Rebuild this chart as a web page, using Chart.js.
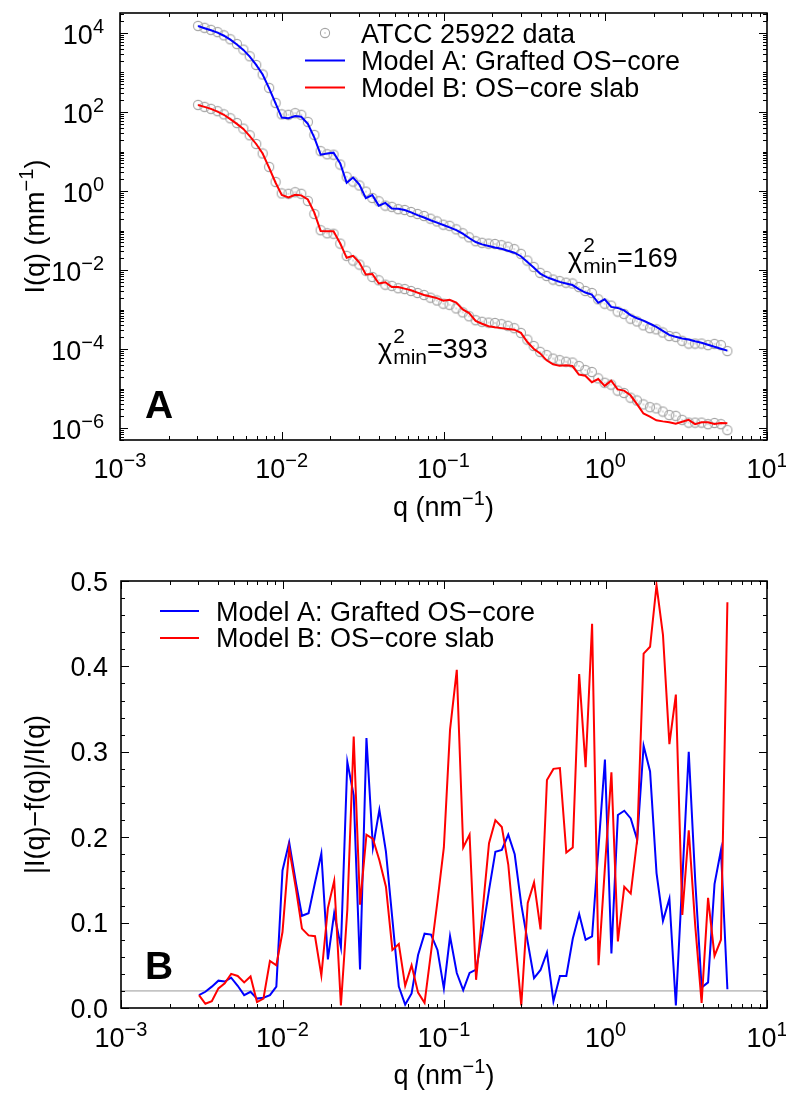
<!DOCTYPE html>
<html>
<head>
<meta charset="utf-8">
<title>ATCC 25922 fits</title>
<script src="https://cdn.jsdelivr.net/npm/chart.js@4.4.1/dist/chart.umd.min.js"></script>
<style>
  html, body { margin: 0; padding: 0; background: #fff; }
  #wrap { position: relative; width: 786px; height: 1093px; }
  canvas { position: absolute; left: 0; }
  #chartA { top: 0; }
  #chartB { top: 545px; }
</style>
</head>
<body>
<div id="wrap">
  <canvas id="chartA" width="786" height="545"></canvas>
  <canvas id="chartB" width="786" height="548"></canvas>
</div>
<script>
// q (nm^-1), shared by all series
const q = [3.04e-3,3.33e-3,3.65e-3,4.01e-3,4.39e-3,4.81e-3,5.28e-3,5.79e-3,6.34e-3,6.95e-3,
  7.62e-3,8.36e-3,9.16e-3,1.00e-2,1.10e-2,1.21e-2,1.32e-2,1.45e-2,1.59e-2,1.74e-2,
  1.91e-2,2.09e-2,2.30e-2,2.52e-2,2.76e-2,3.02e-2,3.31e-2,3.63e-2,3.98e-2,4.37e-2,
  4.79e-2,5.25e-2,5.75e-2,6.30e-2,6.91e-2,7.58e-2,8.31e-2,9.11e-2,9.98e-2,0.109,
  0.120,0.1315,0.144,0.158,0.173,0.190,0.208,0.228,0.250,0.274,
  0.301,0.330,0.361,0.396,0.434,0.476,0.522,0.572,0.627,0.687,
  0.753,0.826,0.905,0.992,1.088,1.193,1.307,1.433,1.571,1.722,
  1.888,2.070,2.269,2.487,2.727,2.989,3.277,3.592,3.937,4.316,
  4.732,5.187,5.686];

// ATCC 25922 data, I(q) in mm^-1
const intensity = [1.51e4,1.35e4,1.20e4,1.05e4,8.71e3,6.92e3,5.25e3,3.80e3,2.57e3,1.55e3,
  891,407,170,87.1,85.1,93.3,85.1,56.2,26.3,10.2,
  8.51,8.32,4.68,2.29,1.74,1.38,0.966,0.668,0.550,0.427,
  0.398,0.347,0.331,0.295,0.263,0.234,0.200,0.170,0.141,0.132,
  0.107,0.0851,0.0676,0.0537,0.0490,0.0468,0.0457,0.0427,0.0389,0.0339,
  0.0257,0.0174,0.0120,8.51e-3,7.08e-3,5.75e-3,5.25e-3,4.79e-3,4.57e-3,3.72e-3,
  2.95e-3,2.63e-3,1.82e-3,1.41e-3,1.26e-3,8.91e-4,7.76e-4,5.89e-4,5.01e-4,3.98e-4,
  3.39e-4,3.16e-4,2.63e-4,2.14e-4,2.04e-4,1.62e-4,1.38e-4,1.38e-4,1.38e-4,1.26e-4,
  1.35e-4,1.26e-4,8.91e-5];

// the data is drawn a second time, shifted down, under model B
const dataOffset = 0.01;

// Model A: Grafted OS-core
const modelA = [1.50e4,1.32e4,1.17e4,1.02e4,8.51e3,6.76e3,5.13e3,3.72e3,2.51e3,1.55e3,
  891,398,166,72.4,69.2,79.4,75.9,50.1,22.4,8.32,
  8.91,9.33,5.01,1.62,2.19,1.45,0.661,0.794,0.427,0.501,
  0.359,0.355,0.331,0.288,0.245,0.214,0.182,0.158,0.138,0.120,
  0.102,0.0832,0.0646,0.0513,0.0447,0.0407,0.0372,0.0347,0.0309,0.0275,
  0.0224,0.0160,0.0116,8.13e-3,6.61e-3,5.75e-3,5.01e-3,4.57e-3,4.17e-3,3.31e-3,
  2.69e-3,2.40e-3,1.48e-3,1.82e-3,1.17e-3,1.10e-3,9.55e-4,7.24e-4,6.03e-4,5.25e-4,
  4.37e-4,3.63e-4,2.88e-4,2.29e-4,2.04e-4,1.86e-4,1.74e-4,1.58e-4,1.45e-4,1.29e-4,
  1.15e-4,1.02e-4,9.12e-5];

// Model B: OS-core slab (already on the shifted scale)
const modelB = [150,135,120,102,85.1,66.1,50.1,37.2,24.5,15.5,
  8.91,3.85,1.62,0.794,0.692,0.804,0.776,0.610,0.285,0.0977,
  0.0955,0.0955,0.0468,0.0204,0.0229,0.0155,7.76e-3,7.94e-3,4.57e-3,4.90e-3,
  3.72e-3,3.72e-3,3.39e-3,3.09e-3,2.69e-3,2.34e-3,2.14e-3,1.95e-3,1.68e-3,1.76e-3,
  1.50e-3,1.01e-3,8.13e-4,5.19e-4,4.37e-4,3.80e-4,3.55e-4,3.39e-4,3.24e-4,3.09e-4,
  2.57e-4,1.51e-4,1.02e-4,7.76e-5,5.19e-5,4.12e-5,3.76e-5,3.89e-5,3.72e-5,2.26e-5,
  2.11e-5,1.45e-5,1.74e-5,1.17e-5,1.58e-5,9.55e-6,8.91e-6,6.76e-6,4.03e-6,2.34e-6,
  1.95e-6,1.58e-6,1.48e-6,1.41e-6,1.29e-6,1.45e-6,1.62e-6,1.26e-6,1.41e-6,1.41e-6,
  1.27e-6,1.35e-6,1.32e-6];

// |I(q)-f(q)|/I(q)
const residA = [0.015,0.019,0.025,0.032,0.031,0.0355,0.026,0.015,0.019,0.011,
  0.012,0.015,0.025,0.161,0.194,0.147,0.108,0.111,0.147,0.181,
  0.057,0.111,0.071,0.288,0.249,0.045,0.316,0.188,0.232,0.183,
  0.104,0.025,0.004,0.017,0.062,0.087,0.086,0.068,0.023,0.084,
  0.041,0.021,0.041,0.045,0.088,0.138,0.183,0.185,0.203,0.180,
  0.121,0.077,0.035,0.0445,0.065,0.008,0.0375,0.0375,0.081,0.110,
  0.080,0.084,0.188,0.291,0.064,0.226,0.231,0.222,0.197,0.307,
  0.277,0.158,0.102,0.128,0.003,0.150,0.300,0.150,0.024,0.030,
  0.145,0.185,0.022];
const residB = [0.015,0.005,0.008,0.023,0.029,0.040,0.0375,0.030,0.037,0.007,
  0.011,0.055,0.050,0.089,0.187,0.140,0.093,0.085,0.084,0.038,
  0.117,0.149,0.003,0.115,0.318,0.121,0.203,0.198,0.173,0.142,
  0.068,0.075,0.026,0.050,0.018,0.006,0.065,0.125,0.188,0.326,
  0.396,0.188,0.203,0.033,0.112,0.193,0.220,0.212,0.168,0.086,
  0.003,0.123,0.147,0.092,0.267,0.280,0.281,0.182,0.188,0.391,
  0.282,0.450,0.050,0.165,0.276,0.078,0.142,0.134,0.197,0.415,
  0.423,0.495,0.437,0.309,0.367,0.109,0.208,0.097,0.006,0.129,
  0.061,0.080,0.475];
const refLevel = 0.02;

const xDecades = [1e-3, 1e-2, 1e-1, 1, 10];
const yDecadesA = [1e-6, 1e-4, 1e-2, 1, 1e2, 1e4];
const yTicksB = [0, 0.1, 0.2, 0.3, 0.4, 0.5];
const chiA = '169', chiB = '393';

(function(){
  const FAMILY = '"Liberation Sans", Arial, Helvetica, sans-serif';
  const fontOf = (px, bold) => (bold ? 'bold ' : '') + px + 'px ' + FAMILY;
  const BLUE = '#0000ff', RED = '#ff0000', GREY = '#a4a4a4';

  // open circle with a dot, like the data markers
  const ring = document.createElement('canvas');
  ring.width = 12; ring.height = 12;
  (function(){
    const c = ring.getContext('2d');
    c.strokeStyle = GREY; c.lineWidth = 1.1;
    c.beginPath(); c.arc(6, 6, 4.6, 0, Math.PI * 2); c.stroke();
    c.fillStyle = GREY; c.beginPath(); c.arc(6, 6, 0.7, 0, Math.PI * 2); c.fill();
  })();

  const pts = (ys, f) => q.map((x, i) => ({ x, y: ys[i] * (f || 1) }));

  function rich(ctx, parts, x, y, align) {
    let total = 0;
    parts.forEach(p => { ctx.font = fontOf(p.size, p.bold); p.w = ctx.measureText(p.t).width; total += p.w; });
    let cx = align === 'right' ? x - total : align === 'center' ? x - total / 2 : x;
    parts.forEach(p => { ctx.font = fontOf(p.size, p.bold); ctx.fillText(p.t, cx, y + (p.dy || 0)); cx += p.w; });
  }
  const pow10 = (v) => {
    const e = Math.round(Math.log10(v));
    return [{ t: '10', size: 27 }, { t: e < 0 ? '\u2212' + (-e) : String(e), size: 20, dy: -11 }];
  };
  const perNm = () => [{ t: 'q (nm', size: 27 }, { t: '\u22121', size: 20, dy: -11 }, { t: ')', size: 27 }];

  function seg(ctx, x1, y1, x2, y2) { ctx.beginPath(); ctx.moveTo(x1, y1); ctx.lineTo(x2, y2); ctx.stroke(); }

  function frame(ctx, a) {
    ctx.save();
    ctx.strokeStyle = '#000'; ctx.lineWidth = 1.6;
    ctx.strokeRect(a.left, a.top, a.right - a.left, a.bottom - a.top);
    ctx.restore();
  }

  function logXTicks(ctx, s, a) {
    ctx.save(); ctx.strokeStyle = '#000'; ctx.lineWidth = 1;
    for (let k = -3; k <= 1; k++) for (let m = 1; m <= 9; m++) {
      const v = m * Math.pow(10, k);
      if (v < s.min * 0.999 || v > s.max * 1.001) continue;
      const px = Math.round(s.getPixelForValue(v)) + 0.5;
      const len = m === 1 ? 8 : 4;
      seg(ctx, px, a.bottom, px, a.bottom - len);
      seg(ctx, px, a.top, px, a.top + len);
    }
    ctx.restore();
  }

  function logYTicks(ctx, s, a) {
    ctx.save(); ctx.strokeStyle = '#000'; ctx.lineWidth = 1;
    for (let k = -7; k <= 4; k++) for (let m = 1; m <= 9; m++) {
      const v = m * Math.pow(10, k);
      if (v < s.min || v > s.max) continue;
      const py = Math.round(s.getPixelForValue(v)) + 0.5;
      const len = (m === 1 && k % 2 === 0) ? 8 : 4;
      seg(ctx, a.left, py, a.left + len, py);
      seg(ctx, a.right, py, a.right - len, py);
    }
    ctx.restore();
  }

  function linYTicks(ctx, s, a) {
    ctx.save(); ctx.strokeStyle = '#000'; ctx.lineWidth = 1;
    for (let j = 0; j <= 25; j++) {
      const py = Math.round(s.getPixelForValue(j * 0.02)) + 0.5;
      const len = j % 5 === 0 ? 8 : 4;
      seg(ctx, a.left, py, a.left + len, py);
      seg(ctx, a.right, py, a.right - len, py);
    }
    ctx.restore();
  }

  function chiLabel(ctx, x, y, value) {
    ctx.font = fontOf(27); ctx.fillText('\u03c7', x, y);
    let cx = x + ctx.measureText('\u03c7').width + 1;
    ctx.font = fontOf(21);
    const w = Math.max(ctx.measureText('2').width, ctx.measureText('min').width);
    ctx.fillText('2', cx, y - 15);
    ctx.fillText('min', cx, y + 6);
    ctx.font = fontOf(27); ctx.fillText('=' + value, cx + w, y);
  }

  function yTitle(ctx, parts, x, cy) {
    ctx.save(); ctx.translate(x, cy); ctx.rotate(-Math.PI / 2);
    rich(ctx, parts, 0, 0, 'center');
    ctx.restore();
  }

  function legendLine(ctx, color, x1, x2, y) {
    ctx.save(); ctx.strokeStyle = color; ctx.lineWidth = 2; seg(ctx, x1, y, x2, y); ctx.restore();
  }

  const decorA = {
    id: 'decorA',
    afterDraw(chart) {
      const { ctx, chartArea: a, scales: { x, y } } = chart;
      ctx.save();
      ctx.fillStyle = '#000'; ctx.textAlign = 'left'; ctx.textBaseline = 'alphabetic';
      logXTicks(ctx, x, a); logYTicks(ctx, y, a); frame(ctx, a);
      yDecadesA.forEach(v => rich(ctx, pow10(v), 104, y.getPixelForValue(v) + 11, 'right'));
      xDecades.forEach(v => rich(ctx, pow10(v), x.getPixelForValue(v), 478, 'center'));
      rich(ctx, perNm(), (a.left + a.right) / 2, 516, 'center');
      yTitle(ctx, [{ t: 'I(q) (mm', size: 27 }, { t: '\u22121', size: 20, dy: -11 }, { t: ')', size: 27 }], 44, (a.top + a.bottom) / 2);
      // legend
      ctx.drawImage(ring, 325 - 6, 33 - 6);
      legendLine(ctx, BLUE, 305, 345, 60.5);
      legendLine(ctx, RED, 305, 345, 87.5);
      ctx.fillStyle = '#000'; ctx.font = fontOf(27);
      ctx.fillText('ATCC 25922 data', 361, 43);
      ctx.fillText('Model A: Grafted OS\u2212core', 361, 70);
      ctx.fillText('Model B: OS\u2212core slab', 361, 97);
      chiLabel(ctx, 568, 267, chiA);
      chiLabel(ctx, 378, 358, chiB);
      ctx.font = fontOf(39, true); ctx.fillText('A', 145, 418);
      ctx.restore();
    }
  };

  const decorB = {
    id: 'decorB',
    beforeDatasetsDraw(chart) {
      const { ctx, chartArea: a, scales: { y } } = chart;
      const py = y.getPixelForValue(refLevel);
      ctx.save(); ctx.strokeStyle = '#c4c4c4'; ctx.lineWidth = 1.6;
      seg(ctx, a.left, py, a.right, py); ctx.restore();
    },
    afterDraw(chart) {
      const { ctx, chartArea: a, scales: { x, y } } = chart;
      ctx.save();
      ctx.fillStyle = '#000'; ctx.textAlign = 'left'; ctx.textBaseline = 'alphabetic';
      logXTicks(ctx, x, a); linYTicks(ctx, y, a); frame(ctx, a);
      ctx.font = fontOf(27); ctx.textAlign = 'right';
      yTicksB.forEach(v => ctx.fillText(v.toFixed(1), 108, y.getPixelForValue(v) + 9.5));
      ctx.textAlign = 'left';
      xDecades.forEach(v => rich(ctx, pow10(v), x.getPixelForValue(v), 502, 'center'));
      rich(ctx, perNm(), (a.left + a.right) / 2, 539, 'center');
      yTitle(ctx, [{ t: '|I(q)\u2212f(q)|/I(q)', size: 27 }], 44, (a.top + a.bottom) / 2);
      legendLine(ctx, BLUE, 160, 199, 66);
      legendLine(ctx, RED, 160, 199, 93);
      ctx.font = fontOf(27);
      ctx.fillText('Model A: Grafted OS\u2212core', 216, 76);
      ctx.fillText('Model B: OS\u2212core slab', 216, 102);
      ctx.font = fontOf(39, true); ctx.fillText('B', 145, 434);
      ctx.restore();
    }
  };

  const hidden = { grid: { display: false }, border: { display: false }, ticks: { display: false } };
  const base = {
    responsive: false, animation: false, devicePixelRatio: 1,
    plugins: { legend: { display: false }, tooltip: { enabled: false } }
  };
  const lineSet = (label, data, color, order) => ({
    label, data, showLine: true, borderColor: color, backgroundColor: color,
    borderWidth: 2, pointRadius: 0, tension: 0, fill: false, order
  });
  const dotSet = (label, data) => ({
    label, data, showLine: false, pointStyle: ring, pointRadius: 5, order: 3
  });

  new Chart(document.getElementById('chartA'), {
    type: 'scatter',
    data: { datasets: [
      lineSet('Model A: Grafted OS-core', pts(modelA), BLUE, 0),
      lineSet('Model B: OS-core slab', pts(modelB), RED, 1),
      dotSet('ATCC 25922 data', pts(intensity)),
      dotSet('ATCC 25922 data (offset)', pts(intensity, dataOffset))
    ] },
    options: Object.assign({}, base, {
      layout: { padding: { top: 13, right: 19, left: 0, bottom: 0 } },
      scales: {
        x: Object.assign({ type: 'logarithmic', min: 1e-3, max: 10, afterFit: s => { s.height = 105; } }, hidden),
        y: Object.assign({ type: 'logarithmic', min: 5e-7, max: 3.2e4, afterFit: s => { s.width = 120; } }, hidden)
      }
    }),
    plugins: [decorA]
  });

  new Chart(document.getElementById('chartB'), {
    type: 'scatter',
    data: { datasets: [
      lineSet('Model B: OS-core slab', pts(residB), RED, 0),
      lineSet('Model A: Grafted OS-core', pts(residA), BLUE, 1)
    ] },
    options: Object.assign({}, base, {
      layout: { padding: { top: 36, right: 19, left: 0, bottom: 0 } },
      scales: {
        x: Object.assign({ type: 'logarithmic', min: 1e-3, max: 10, afterFit: s => { s.height = 85; } }, hidden),
        y: Object.assign({ type: 'linear', min: 0, max: 0.5, afterFit: s => { s.width = 121; } }, hidden)
      }
    }),
    plugins: [decorB]
  });
})();
</script>
</body>
</html>
